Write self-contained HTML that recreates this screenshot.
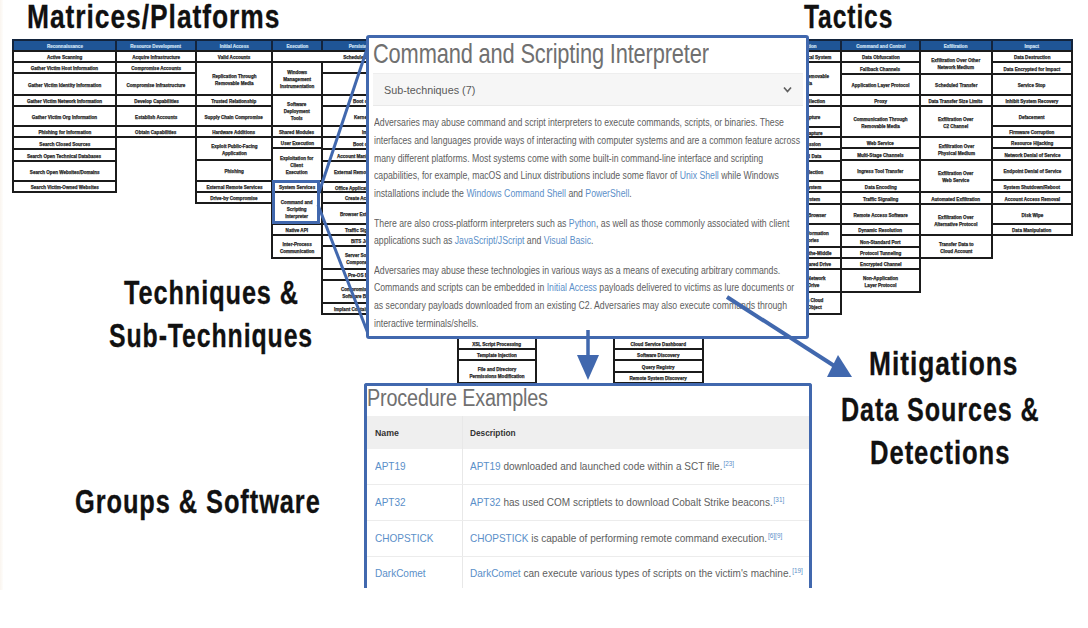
<!DOCTYPE html>
<html><head><meta charset="utf-8"><style>
*{margin:0;padding:0;box-sizing:border-box}
html,body{width:1088px;height:628px;overflow:hidden;background:#fff}
body{position:relative;font-family:"Liberation Sans",sans-serif}
.c{position:absolute;padding-top:2px;border:2px solid #1b1b1b;background:#fff;display:flex;align-items:center;justify-content:center;text-align:center;
 font-size:4.8px;line-height:7px;font-weight:bold;color:#262626;-webkit-text-stroke:0.25px #262626;overflow:hidden;white-space:nowrap}
.h{background:#1f5596;border-color:#13243c;color:#d0e2f5;-webkit-text-stroke:0.2px #d0e2f5;padding-top:0}
.c span{display:inline-block;transform:scaleX(0.95)}
.c.l span{transform-origin:0 50%}
.big{position:absolute;font-weight:bold;font-size:33px;line-height:33px;color:#111;letter-spacing:1.2px;-webkit-text-stroke:0.3px #111;white-space:nowrap;transform-origin:0 0}
.box{position:absolute;border:3px solid #4168ae;background:#fff;overflow:hidden;border-radius:3px}
.ttl{position:absolute;font-size:26px;color:#707070;white-space:nowrap;transform-origin:0 0;letter-spacing:-0.2px}
.p{position:absolute;left:5px;font-size:10px;line-height:17.8px;color:#5e5e5e;white-space:nowrap;transform:scaleX(0.87);transform-origin:0 0}
.p a{color:#5b8fc9;text-decoration:none}
sup{font-size:7px;line-height:0;vertical-align:4px;color:#5b8fc9;margin-left:1px}
</style></head><body>
<div id="r" style="position:absolute;left:0;top:0;width:1088px;height:628px">
<div style="position:absolute;left:0;top:0;width:3px;height:590px;background:linear-gradient(90deg,#faf5ef,#fefdfb)"></div>
<div class="c h" style="left:12px;top:39px;width:105px;height:14px"><span>Reconnaissance</span></div>
<div class="c h" style="left:115px;top:39px;width:82px;height:14px"><span>Resource Development</span></div>
<div class="c h" style="left:195px;top:39px;width:78px;height:14px"><span>Initial Access</span></div>
<div class="c h" style="left:271px;top:39px;width:52px;height:14px"><span>Execution</span></div>
<div class="c h" style="left:321px;top:39px;width:80px;height:14px"><span>Persistence</span></div>
<div class="c h" style="left:769px;top:39px;width:73px;height:14px"><span>Collection</span></div>
<div class="c h" style="left:840px;top:39px;width:81px;height:14px"><span>Command and Control</span></div>
<div class="c h" style="left:919px;top:39px;width:74px;height:14px"><span>Exfiltration</span></div>
<div class="c h" style="left:991px;top:39px;width:82px;height:14px"><span>Impact</span></div>
<div class="c" style="left:12px;top:50px;width:105px;height:13px"><span>Active Scanning</span></div>
<div class="c" style="left:12px;top:61px;width:105px;height:13px"><span>Gather Victim Host Information</span></div>
<div class="c" style="left:12px;top:72px;width:105px;height:24px"><span>Gather Victim Identity Information</span></div>
<div class="c" style="left:12px;top:94px;width:105px;height:13px"><span>Gather Victim Network Information</span></div>
<div class="c" style="left:12px;top:105px;width:105px;height:22px"><span>Gather Victim Org Information</span></div>
<div class="c" style="left:12px;top:125px;width:105px;height:13px"><span>Phishing for Information</span></div>
<div class="c" style="left:12px;top:136px;width:105px;height:14px"><span>Search Closed Sources</span></div>
<div class="c" style="left:12px;top:148px;width:105px;height:14px"><span>Search Open Technical Databases</span></div>
<div class="c" style="left:12px;top:160px;width:105px;height:22px"><span>Search Open Websites/Domains</span></div>
<div class="c" style="left:12px;top:180px;width:105px;height:13px"><span>Search Victim-Owned Websites</span></div>
<div class="c" style="left:115px;top:50px;width:82px;height:13px"><span>Acquire Infrastructure</span></div>
<div class="c" style="left:115px;top:61px;width:82px;height:13px"><span>Compromise Accounts</span></div>
<div class="c" style="left:115px;top:72px;width:82px;height:24px"><span>Compromise Infrastructure</span></div>
<div class="c" style="left:115px;top:94px;width:82px;height:13px"><span>Develop Capabilities</span></div>
<div class="c" style="left:115px;top:105px;width:82px;height:22px"><span>Establish Accounts</span></div>
<div class="c" style="left:115px;top:125px;width:82px;height:13px"><span>Obtain Capabilities</span></div>
<div class="c" style="left:195px;top:50px;width:78px;height:13px"><span>Valid Accounts</span></div>
<div class="c" style="left:195px;top:61px;width:78px;height:35px"><span>Replication Through<br>Removable Media</span></div>
<div class="c" style="left:195px;top:94px;width:78px;height:13px"><span>Trusted Relationship</span></div>
<div class="c" style="left:195px;top:105px;width:78px;height:22px"><span>Supply Chain Compromise</span></div>
<div class="c" style="left:195px;top:125px;width:78px;height:13px"><span>Hardware Additions</span></div>
<div class="c" style="left:195px;top:136px;width:78px;height:25px"><span>Exploit Public-Facing<br>Application</span></div>
<div class="c" style="left:195px;top:159px;width:78px;height:23px"><span>Phishing</span></div>
<div class="c" style="left:195px;top:180px;width:78px;height:13px"><span>External Remote Services</span></div>
<div class="c" style="left:195px;top:191px;width:78px;height:13px"><span>Drive-by Compromise</span></div>
<div class="c" style="left:271px;top:50px;width:188px;height:13px"><span>Scheduled Task/Job</span></div>
<div class="c" style="left:271px;top:61px;width:52px;height:35px"><span>Windows<br>Management<br>Instrumentation</span></div>
<div class="c" style="left:271px;top:94px;width:52px;height:33px"><span>Software<br>Deployment<br>Tools</span></div>
<div class="c" style="left:271px;top:125px;width:52px;height:13px"><span>Shared Modules</span></div>
<div class="c" style="left:271px;top:136px;width:52px;height:13px"><span>User Execution</span></div>
<div class="c" style="left:271px;top:147px;width:52px;height:35px"><span>Exploitation for<br>Client<br>Execution</span></div>
<div class="c" style="left:271px;top:180px;width:52px;height:13px"><span>System Services</span></div>
<div class="c" style="left:271px;top:191px;width:52px;height:34px"><span>Command and<br>Scripting<br>Interpreter</span></div>
<div class="c" style="left:271px;top:223px;width:52px;height:13px"><span>Native API</span></div>
<div class="c" style="left:271px;top:234px;width:52px;height:25px"><span>Inter-Process<br>Communication</span></div>
<div class="c" style="left:321px;top:61px;width:80px;height:13px"><span></span></div>
<div class="c" style="left:321px;top:72px;width:80px;height:24px"><span></span></div>
<div class="c l" style="left:321px;top:94px;width:80px;height:13px;justify-content:flex-start;text-align:left;padding-left:30px"><span>Boot or Logon Initialization</span></div>
<div class="c l" style="left:321px;top:105px;width:80px;height:22px;justify-content:flex-start;text-align:left;padding-left:31px"><span>Kernel Modules and Extensions</span></div>
<div class="c l" style="left:321px;top:125px;width:80px;height:13px;justify-content:flex-start;text-align:left;padding-left:39px"><span>Implant Container Image</span></div>
<div class="c l" style="left:321px;top:136px;width:80px;height:14px;justify-content:flex-start;text-align:left;padding-left:30px"><span>Boot or Logon Autostart</span></div>
<div class="c l" style="left:321px;top:148px;width:80px;height:14px;justify-content:flex-start;text-align:left;padding-left:14px"><span>Account Manipulation</span></div>
<div class="c l" style="left:321px;top:160px;width:80px;height:23px;justify-content:flex-start;text-align:left;padding-left:11px"><span>External Remote Services</span></div>
<div class="c l" style="left:321px;top:181px;width:80px;height:12px;justify-content:flex-start;text-align:left;padding-left:12px"><span>Office Application Startup</span></div>
<div class="c l" style="left:321px;top:191px;width:80px;height:13px;justify-content:flex-start;text-align:left;padding-left:22px"><span>Create Account</span></div>
<div class="c l" style="left:321px;top:202px;width:80px;height:23px;justify-content:flex-start;text-align:left;padding-left:17px"><span>Browser Extensions</span></div>
<div class="c l" style="left:321px;top:223px;width:80px;height:13px;justify-content:flex-start;text-align:left;padding-left:22px"><span>Traffic Signaling</span></div>
<div class="c l" style="left:321px;top:234px;width:80px;height:13px;justify-content:flex-start;text-align:left;padding-left:28px"><span>BITS Jobs</span></div>
<div class="c l" style="left:321px;top:245px;width:80px;height:25px;justify-content:flex-start;text-align:left;padding-left:22px"><span>Server Software<br>&nbsp;Component</span></div>
<div class="c l" style="left:321px;top:268px;width:80px;height:13px;justify-content:flex-start;text-align:left;padding-left:25px"><span>Pre-OS Boot</span></div>
<div class="c l" style="left:321px;top:279px;width:80px;height:25px;justify-content:flex-start;text-align:left;padding-left:18px"><span>Compromise Client<br>&nbsp;Software Binary</span></div>
<div class="c l" style="left:321px;top:302px;width:80px;height:13px;justify-content:flex-start;text-align:left;padding-left:11px"><span>Implant Container</span></div>
<div class="c" style="left:457px;top:325px;width:80px;height:25px"><span></span></div>
<div class="c" style="left:457px;top:337px;width:80px;height:13px"><span>XSL Script Processing</span></div>
<div class="c" style="left:457px;top:348px;width:80px;height:13px"><span>Template Injection</span></div>
<div class="c" style="left:457px;top:359px;width:80px;height:25px"><span>File and Directory<br>Permissions Modification</span></div>
<div class="c" style="left:613px;top:325px;width:91px;height:14px"><span></span></div>
<div class="c" style="left:613px;top:337px;width:91px;height:13px"><span>Cloud Service Dashboard</span></div>
<div class="c" style="left:613px;top:348px;width:91px;height:13px"><span>Software Discovery</span></div>
<div class="c" style="left:613px;top:359px;width:91px;height:14px"><span>Query Registry</span></div>
<div class="c" style="left:613px;top:371px;width:91px;height:13px"><span>Remote System Discovery</span></div>
<div class="c" style="left:769px;top:50px;width:73px;height:13px"><span>Data from Local System</span></div>
<div class="c" style="left:769px;top:61px;width:73px;height:35px"><span>Data from Removable<br>Media</span></div>
<div class="c" style="left:769px;top:94px;width:73px;height:13px"><span>Archive Collection</span></div>
<div class="c" style="left:769px;top:105px;width:73px;height:23px"><span>Input Capture</span></div>
<div class="c" style="left:769px;top:126px;width:73px;height:12px"><span>Screen Capture</span></div>
<div class="c" style="left:769px;top:136px;width:73px;height:14px"><span>Video Session</span></div>
<div class="c" style="left:769px;top:148px;width:73px;height:14px"><span>Clipboard Data</span></div>
<div class="c" style="left:769px;top:160px;width:73px;height:22px"><span>Email Collection</span></div>
<div class="c" style="left:769px;top:180px;width:73px;height:13px"><span>Audio System</span></div>
<div class="c" style="left:769px;top:191px;width:73px;height:14px"><span>Local System</span></div>
<div class="c" style="left:769px;top:203px;width:73px;height:22px"><span>Man in the Browser</span></div>
<div class="c" style="left:769px;top:223px;width:73px;height:25px"><span>Data from Information<br>Repositories</span></div>
<div class="c" style="left:769px;top:246px;width:73px;height:13px"><span>Adversary-in-the-Middle</span></div>
<div class="c" style="left:769px;top:257px;width:73px;height:13px"><span>Data from Shared Drive</span></div>
<div class="c" style="left:769px;top:268px;width:73px;height:25px"><span>Data from Network<br>Shared Drive</span></div>
<div class="c" style="left:769px;top:291px;width:73px;height:24px"><span>Data from Cloud<br>Storage Object</span></div>
<div class="c" style="left:840px;top:50px;width:81px;height:13px"><span>Data Obfuscation</span></div>
<div class="c" style="left:840px;top:61px;width:81px;height:14px"><span>Fallback Channels</span></div>
<div class="c" style="left:840px;top:73px;width:81px;height:23px"><span>Application Layer Protocol</span></div>
<div class="c" style="left:840px;top:94px;width:81px;height:13px"><span>Proxy</span></div>
<div class="c" style="left:840px;top:105px;width:81px;height:33px"><span>Communication Through<br>Removable Media</span></div>
<div class="c" style="left:840px;top:136px;width:81px;height:13px"><span>Web Service</span></div>
<div class="c" style="left:840px;top:147px;width:81px;height:14px"><span>Multi-Stage Channels</span></div>
<div class="c" style="left:840px;top:159px;width:81px;height:22px"><span>Ingress Tool Transfer</span></div>
<div class="c" style="left:840px;top:179px;width:81px;height:14px"><span>Data Encoding</span></div>
<div class="c" style="left:840px;top:191px;width:81px;height:14px"><span>Traffic Signaling</span></div>
<div class="c" style="left:840px;top:203px;width:81px;height:22px"><span>Remote Access Software</span></div>
<div class="c" style="left:840px;top:223px;width:81px;height:13px"><span>Dynamic Resolution</span></div>
<div class="c" style="left:840px;top:234px;width:81px;height:14px"><span>Non-Standard Port</span></div>
<div class="c" style="left:840px;top:246px;width:81px;height:13px"><span>Protocol Tunneling</span></div>
<div class="c" style="left:840px;top:257px;width:81px;height:13px"><span>Encrypted Channel</span></div>
<div class="c" style="left:840px;top:268px;width:81px;height:25px"><span>Non-Application<br>Layer Protocol</span></div>
<div class="c" style="left:919px;top:50px;width:74px;height:25px"><span>Exfiltration Over Other<br>Network Medium</span></div>
<div class="c" style="left:919px;top:73px;width:74px;height:23px"><span>Scheduled Transfer</span></div>
<div class="c" style="left:919px;top:94px;width:74px;height:13px"><span>Data Transfer Size Limits</span></div>
<div class="c" style="left:919px;top:105px;width:74px;height:33px"><span>Exfiltration Over<br>C2 Channel</span></div>
<div class="c" style="left:919px;top:136px;width:74px;height:25px"><span>Exfiltration Over<br>Physical Medium</span></div>
<div class="c" style="left:919px;top:159px;width:74px;height:34px"><span>Exfiltration Over<br>Web Service</span></div>
<div class="c" style="left:919px;top:191px;width:74px;height:14px"><span>Automated Exfiltration</span></div>
<div class="c" style="left:919px;top:203px;width:74px;height:33px"><span>Exfiltration Over<br>Alternative Protocol</span></div>
<div class="c" style="left:919px;top:234px;width:74px;height:25px"><span>Transfer Data to<br>Cloud Account</span></div>
<div class="c" style="left:991px;top:50px;width:82px;height:13px"><span>Data Destruction</span></div>
<div class="c" style="left:991px;top:61px;width:82px;height:14px"><span>Data Encrypted for Impact</span></div>
<div class="c" style="left:991px;top:73px;width:82px;height:23px"><span>Service Stop</span></div>
<div class="c" style="left:991px;top:94px;width:82px;height:13px"><span>Inhibit System Recovery</span></div>
<div class="c" style="left:991px;top:105px;width:82px;height:22px"><span>Defacement</span></div>
<div class="c" style="left:991px;top:125px;width:82px;height:13px"><span>Firmware Corruption</span></div>
<div class="c" style="left:991px;top:136px;width:82px;height:13px"><span>Resource Hijacking</span></div>
<div class="c" style="left:991px;top:147px;width:82px;height:14px"><span>Network Denial of Service</span></div>
<div class="c" style="left:991px;top:159px;width:82px;height:22px"><span>Endpoint Denial of Service</span></div>
<div class="c" style="left:991px;top:179px;width:82px;height:14px"><span>System Shutdown/Reboot</span></div>
<div class="c" style="left:991px;top:191px;width:82px;height:14px"><span>Account Access Removal</span></div>
<div class="c" style="left:991px;top:203px;width:82px;height:22px"><span>Disk Wipe</span></div>
<div class="c" style="left:991px;top:223px;width:82px;height:13px"><span>Data Manipulation</span></div>
<div class="c" style="left:272px;top:180px;width:48px;height:44px;border:3px solid #4168ae;background:transparent"></div>

<div class="big" style="left:27.4px;top:0.2px;transform:scaleX(0.7997)">Matrices/Platforms</div>
<div class="big" style="left:804.0px;top:0.3px;transform:scaleX(0.7462)">Tactics</div>
<div class="big" style="left:124.2px;top:276.0px;transform:scaleX(0.7664)">Techniques &amp;</div>
<div class="big" style="left:109.15px;top:319.0px;transform:scaleX(0.753)">Sub-Techniques</div>
<div class="big" style="left:868.9px;top:346.5px;transform:scaleX(0.7978)">Mitigations</div>
<div class="big" style="left:840.68px;top:392.9px;transform:scaleX(0.7619)">Data Sources &amp;</div>
<div class="big" style="left:870.15px;top:436.0px;transform:scaleX(0.7767)">Detections</div>
<div class="big" style="left:74.63px;top:485.0px;transform:scaleX(0.7696)">Groups &amp; Software</div>

<svg style="position:absolute;left:0;top:0" width="1088" height="628">
 <g stroke="#4168ae" stroke-width="3" fill="none">
  <line x1="318.5" y1="194" x2="371" y2="37"/>
  <line x1="318" y1="205" x2="369" y2="336"/>
 </g>
</svg>

<div class="box" style="left:366px;top:35px;width:443px;height:304px">
 <div class="ttl" style="left:4px;top:0px;font-size:27.3px;transform:scaleX(0.80)">Command and Scripting Interpreter</div>
 <div style="position:absolute;left:4px;top:35px;width:430px;height:33px;background:#f6f6f6;border-top:1px solid #eeeeee;border-bottom:1px solid #e9e9e9"></div>
 <div style="position:absolute;left:15px;top:46px;font-size:10.8px;color:#5a5a5a;white-space:nowrap">Sub-techniques (7)</div>
 <svg style="position:absolute;left:0;top:0" width="437" height="100"><polyline points="415,49.5 418.5,53.5 422,49.5" fill="none" stroke="#606060" stroke-width="1.7"/></svg>
 <div class="p" style="top:76px">Adversaries may abuse command and script interpreters to execute commands, scripts, or binaries. These<br>interfaces and languages provide ways of interacting with computer systems and are a common feature across<br>many different platforms. Most systems come with some built-in command-line interface and scripting<br>capabilities, for example, macOS and Linux distributions include some flavor of <a>Unix Shell</a> while Windows<br>installations include the <a>Windows Command Shell</a> and <a>PowerShell</a>.</div>
 <div class="p" style="top:176.5px">There are also cross-platform interpreters such as <a>Python</a>, as well as those commonly associated with client<br>applications such as <a>JavaScript/JScript</a> and <a>Visual Basic</a>.</div>
 <div class="p" style="top:223.5px">Adversaries may abuse these technologies in various ways as a means of executing arbitrary commands.<br>Commands and scripts can be embedded in <a>Initial Access</a> payloads delivered to victims as lure documents or<br>as secondary payloads downloaded from an existing C2. Adversaries may also execute commands through<br>interactive terminals/shells.</div>
</div>

<div class="box" style="left:364px;top:383px;width:448px;height:205px;border-bottom:none;border-radius:3px 3px 0 0">
 <div class="ttl" style="left:0px;top:-1.5px;font-size:23.5px;transform:scaleX(0.843)">Procedure Examples</div>
 <div style="position:absolute;left:0;top:30px;width:442px;height:33px;background:#efefef"></div>
 <div style="position:absolute;left:95px;top:30px;width:1px;height:180px;background:#e8e8e8"></div>
 <div style="position:absolute;left:0;top:98px;width:442px;height:1px;background:#ececec"></div>
 <div style="position:absolute;left:0;top:134px;width:442px;height:1px;background:#ececec"></div>
 <div style="position:absolute;left:0;top:170px;width:442px;height:1px;background:#ececec"></div>
 <div class="p" style="left:8px;top:38px;font-weight:bold;color:#333;line-height:18px;font-size:8.8px;transform:none">Name</div>
 <div class="p" style="left:103px;top:38px;font-weight:bold;color:#333;line-height:18px;font-size:8.3px;transform:none">Description</div>
 <div class="p" style="left:8px;top:71px;line-height:18px;font-size:11px;transform:scaleX(0.91)"><a>APT19</a></div>
 <div class="p" style="left:8px;top:107px;line-height:18px;font-size:11px;transform:scaleX(0.91)"><a>APT32</a></div>
 <div class="p" style="left:8px;top:143px;line-height:18px;font-size:11px;transform:scaleX(0.91)"><a>CHOPSTICK</a></div>
 <div class="p" style="left:8px;top:178px;line-height:18px;font-size:11px;transform:scaleX(0.91)"><a>DarkComet</a></div>
 <div class="p" style="left:103px;top:71px;line-height:18px;font-size:11px;transform:scaleX(0.91)"><a>APT19</a> downloaded and launched code within a SCT file.<sup>[23]</sup></div>
 <div class="p" style="left:103px;top:107px;line-height:18px;font-size:11px;transform:scaleX(0.91)"><a>APT32</a> has used COM scriptlets to download Cobalt Strike beacons.<sup>[31]</sup></div>
 <div class="p" style="left:103px;top:143px;line-height:18px;font-size:11px;transform:scaleX(0.91)"><a>CHOPSTICK</a> is capable of performing remote command execution.<sup>[6][9]</sup></div>
 <div class="p" style="left:103px;top:178px;line-height:18px;font-size:11px;transform:scaleX(0.91)"><a>DarkComet</a> can execute various types of scripts on the victim's machine.<sup>[19]</sup></div>
</div>

<svg style="position:absolute;left:0;top:0" width="1088" height="628">
 <g stroke="#4168ae" stroke-width="3.5" fill="#4168ae">
  <line x1="588" y1="330" x2="588" y2="360"/>
  <polygon points="577,355 599,355 588,380" stroke="none"/>
  <line x1="727" y1="297" x2="836" y2="367" stroke-width="4"/>
  <polygon points="838,355 827,377 852,377" stroke="none"/>
 </g>
</svg>
</div>
</body></html>
